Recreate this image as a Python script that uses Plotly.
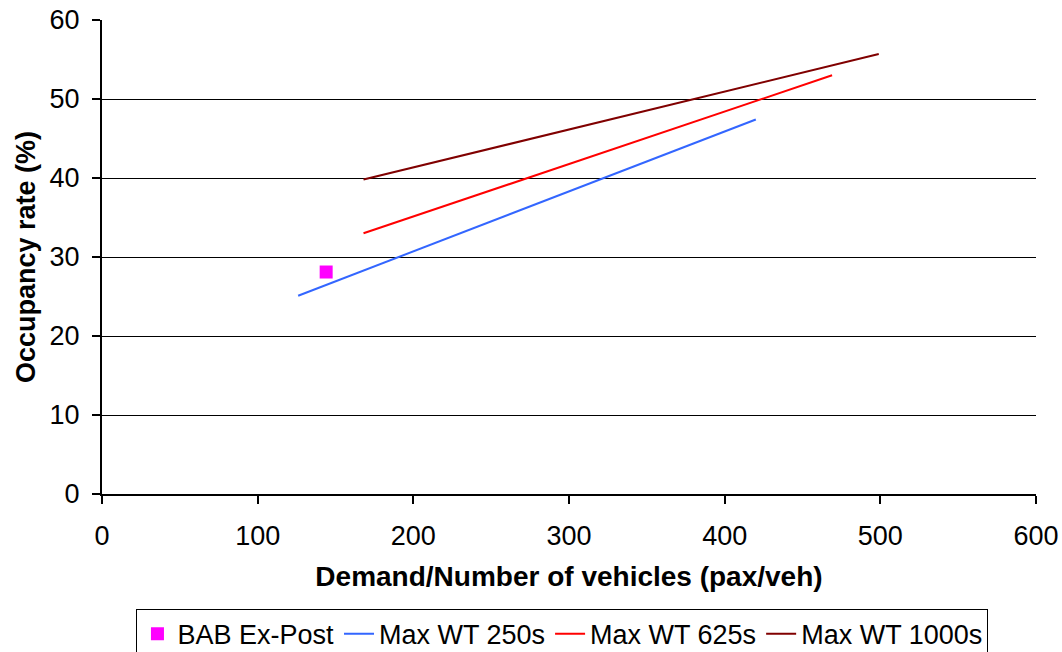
import plotly.graph_objects as go

bab_x = [144]
bab_y = [28.1]

wt250_x = [126, 420]
wt250_y = [25.1, 47.4]

wt625_x = [168, 469]
wt625_y = [33.0, 53.0]

wt1000_x = [168, 499]
wt1000_y = [39.8, 55.7]

x_ticks = [0, 100, 200, 300, 400, 500, 600]
y_ticks = [0, 10, 20, 30, 40, 50, 60]

FONT = "Liberation Sans, Arial, sans-serif"

fig = go.Figure()
fig.add_trace(go.Scatter(x=bab_x, y=bab_y, mode="markers", name="BAB Ex-Post",
                         marker=dict(symbol="square", size=13, color="#FF00FF")))
fig.add_trace(go.Scatter(x=wt250_x, y=wt250_y, mode="lines", name="Max WT 250s",
                         line=dict(color="#3366FF", width=2)))
fig.add_trace(go.Scatter(x=wt625_x, y=wt625_y, mode="lines", name="Max WT 625s",
                         line=dict(color="#FF0000", width=2)))
fig.add_trace(go.Scatter(x=wt1000_x, y=wt1000_y, mode="lines", name="Max WT 1000s",
                         line=dict(color="#800000", width=2)))

fig.update_layout(
    width=1062, height=652,
    margin=dict(l=102, r=26, t=20, b=158, autoexpand=False),
    paper_bgcolor="white", plot_bgcolor="white",
    font=dict(family=FONT, size=27, color="black"),
    showlegend=True,
    legend=dict(orientation="h", x=0.493, xanchor="center", y=-0.242, yanchor="top",
                bordercolor="black", borderwidth=1, font=dict(size=27),
                itemwidth=30, tracegroupgap=0),
    xaxis=dict(range=[0, 600], tickvals=x_ticks, showgrid=False, zeroline=False,
               showline=True, linecolor="black", linewidth=2, automargin=False,
               ticks="outside", ticklen=8, tickwidth=2, tickcolor="black",
               ticklabelstandoff=9,
               title=dict(text="<b>Demand/Number of vehicles (pax/veh)</b>", standoff=16,
                          font=dict(size=28)),
               tickfont=dict(size=27)),
    yaxis=dict(range=[0, 60], tickvals=y_ticks, showgrid=True, gridcolor="black", gridwidth=1,
               zeroline=False, showline=True, linecolor="black", linewidth=2, automargin=False,
               ticks="outside", ticklen=8, tickwidth=2, tickcolor="black",
               ticklabelstandoff=7,
               title=dict(text="<b>Occupancy rate (%)</b>", standoff=6, font=dict(size=27)),
               tickfont=dict(size=27)),
)

fig.write_html("out.html")
